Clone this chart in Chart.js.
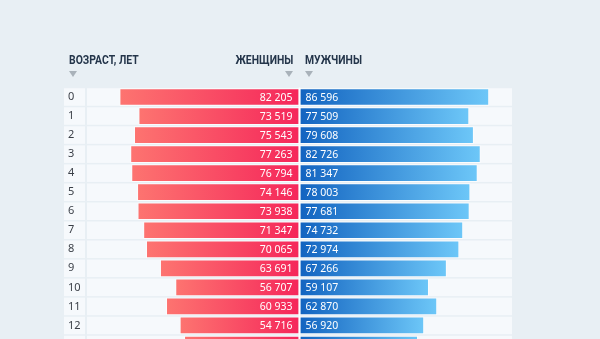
<!DOCTYPE html>
<html lang="ru">
<head>
<meta charset="utf-8">
<script src="https://cdn.jsdelivr.net/npm/chart.js@4.4.1/dist/chart.umd.min.js"></script>
<style>
  html, body {
    margin: 0;
    padding: 0;
    background: #e8eff4;
    overflow: hidden;
  }
  #wrap {
    position: relative;
    width: 600px;
    height: 339px;
    overflow: hidden;
  }
  #box {
    position: absolute;
    left: 0;
    top: 0;
    width: 600px;
    height: 362px;
  }
  .head {
    position: absolute;
    top: 52px;
    font-family: "Roboto", sans-serif;
    font-weight: bold;
    font-size: 13px;
    color: #24354a;
    white-space: nowrap;
    transform: scaleX(0.8);
  }
  .tri {
    position: absolute;
    top: 71px;
    width: 0;
    height: 0;
    border-left: 4px solid transparent;
    border-right: 4px solid transparent;
    border-top: 6px solid #a9b2ba;
  }
</style>
</head>
<body>
<div id="wrap">
  <div id="box"><canvas id="pyramid"></canvas></div>
  <div class="head" style="left:69px; transform-origin:left center">ВОЗРАСТ, ЛЕТ</div>
  <div class="head" style="right:307px; transform-origin:right center">ЖЕНЩИНЫ</div>
  <div class="head" style="left:305px; transform-origin:left center">МУЖЧИНЫ</div>
  <div class="tri" style="left:69px"></div>
  <div class="tri" style="left:285px"></div>
  <div class="tri" style="left:305px"></div>
</div>
<script>
const ages = ["0", "1", "2", "3", "4", "5", "6", "7", "8", "9", "10", "11", "12", "13"];
const women = [82205, 73519, 75543, 77263, 76794, 74146, 73938, 71347, 70065, 63691, 56707, 60933, 54716, 52700];
const men = [86596, 77509, 79608, 82726, 81347, 78003, 77681, 74732, 72974, 67266, 59107, 62870, 56920, 54100];
const sideMax = 97000;

function fmt(n) {
  return String(n).replace(/\B(?=(\d{3})+(?!\d))/g, " ");
}

// gradient runs along each bar, from the centre line outwards
function barGradient(ctx, inner, outer) {
  const chart = ctx.chart;
  const x = chart.scales.x;
  if (!chart.chartArea || !x) return inner;
  const v = ctx.raw;
  const x0 = x.getPixelForValue(0);
  const x1 = x.getPixelForValue(v);
  const g = chart.ctx.createLinearGradient(x0, 0, x1, 0);
  g.addColorStop(0, inner);
  g.addColorStop(1, outer);
  return g;
}

// row cells under everything: age column and bar area
const rowCells = {
  id: "rowCells",
  beforeDraw(chart) {
    const { ctx, chartArea, scales } = chart;
    const y = scales.y;
    const step = y.getPixelForValue(1) - y.getPixelForValue(0);
    ctx.save();
    ctx.fillStyle = "#f6f9fc";
    ages.forEach((a, i) => {
      const cy = y.getPixelForValue(i);
      const top = cy - step / 2 + 0.75;
      const h = step - 1.5;
      ctx.fillRect(64, top, 21, h);
      ctx.fillRect(chartArea.left, top, chartArea.right - chartArea.left, h);
    });
    ctx.restore();
  }
};

// value labels and the thin centre line
const valueLabels = {
  id: "valueLabels",
  afterDatasetsDraw(chart) {
    const { ctx, chartArea, scales } = chart;
    const x0 = scales.x.getPixelForValue(0);
    ctx.save();
    ctx.strokeStyle = "rgba(255,255,255,0.85)";
    ctx.lineWidth = 1.5;
    ctx.beginPath();
    ctx.moveTo(x0, chartArea.top);
    ctx.lineTo(x0, chartArea.bottom);
    ctx.stroke();
    ctx.font = "10.5px 'Noto Sans', sans-serif";
    ctx.fillStyle = "#ffffff";
    ctx.textBaseline = "middle";
    chart.getDatasetMeta(0).data.forEach((bar, i) => {
      ctx.textAlign = "right";
      ctx.fillText(fmt(women[i]), x0 - 7, bar.y + 0.5);
    });
    chart.getDatasetMeta(1).data.forEach((bar, i) => {
      ctx.textAlign = "left";
      ctx.fillText(fmt(men[i]), x0 + 6, bar.y + 0.5);
    });
    ctx.restore();
  }
};

new Chart(document.getElementById("pyramid"), {
  type: "bar",
  data: {
    labels: ages,
    datasets: [
      {
        label: "Женщины",
        data: women.map(v => -v),
        backgroundColor: ctx => barGradient(ctx, "#f5265a", "#fd7470"),
        borderColor: "rgba(255,255,255,0.55)",
        borderWidth: 1,
        borderSkipped: false,
        barPercentage: 1,
        categoryPercentage: 0.93
      },
      {
        label: "Мужчины",
        data: men,
        backgroundColor: ctx => barGradient(ctx, "#1263c0", "#6dc7f8"),
        borderColor: "rgba(255,255,255,0.55)",
        borderWidth: 1,
        borderSkipped: false,
        barPercentage: 1,
        categoryPercentage: 0.93
      }
    ]
  },
  options: {
    indexAxis: "y",
    responsive: true,
    maintainAspectRatio: false,
    animation: false,
    layout: {
      padding: { left: 68, right: 88, top: 87.5, bottom: 8 }
    },
    plugins: {
      legend: { display: false },
      tooltip: { enabled: false }
    },
    scales: {
      x: {
        stacked: true,
        min: -sideMax,
        max: sideMax,
        display: false
      },
      y: {
        stacked: true,
        grid: { display: false },
        border: { display: false },
        afterFit(scale) {
          scale.width = 19;
        },
        ticks: {
          crossAlign: "far",
          padding: 0,
          color: "#3a3f47",
          font: { family: "'Noto Sans', sans-serif", size: 11 }
        }
      }
    }
  },
  plugins: [rowCells, valueLabels]
});
</script>
</body>
</html>
